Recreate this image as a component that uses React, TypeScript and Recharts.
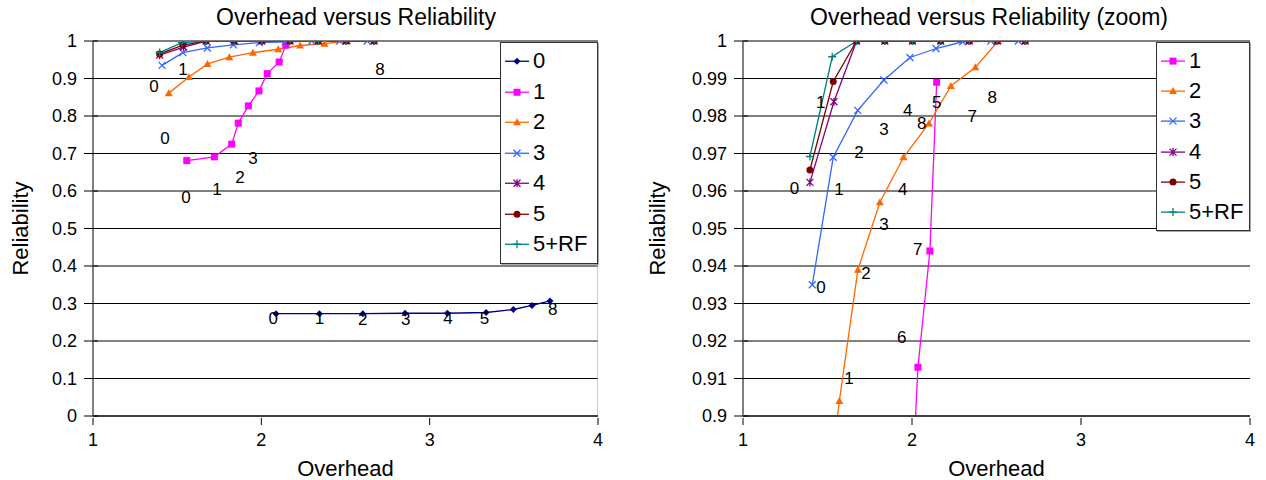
import React from 'react';
import { ComposedChart, Line, XAxis, YAxis, CartesianGrid, Legend, LabelList, Label } from 'recharts';

// overhead (x) / reliability (y) for each configuration
const overhead0 = [2.087, 2.345, 2.603, 2.854, 3.105, 3.335, 3.497, 3.608, 3.715];
const reliability0 = [0.273, 0.273, 0.273, 0.274, 0.274, 0.276, 0.284, 0.295, 0.307];

const overhead1 = [1.557, 1.721, 1.824, 1.863, 1.923, 1.986, 2.035, 2.106, 2.146];
const reliability1 = [0.681, 0.691, 0.725, 0.781, 0.827, 0.867, 0.913, 0.944, 0.989];

const overhead2 = [1.45, 1.57, 1.68, 1.81, 1.95, 2.1, 2.23, 2.375, 2.51];
const reliability2 = [0.861, 0.904, 0.939, 0.957, 0.969, 0.978, 0.988, 0.993, 1.0];

const overhead3 = [1.41, 1.534, 1.679, 1.834, 1.988, 2.142, 2.3, 2.466, 2.629];
const reliability3 = [0.935, 0.969, 0.9815, 0.9896, 0.9956, 0.998, 0.9998, 1.0, 1.0];

const overhead4 = [1.396, 1.538, 1.672, 1.839, 2.003, 2.17, 2.339, 2.504, 2.67];
const reliability4 = [0.9623, 0.9838, 1, 1, 1, 1, 1, 1, 1];

const overhead5 = [1.396, 1.534, 1.672, 1.839, 2.003, 2.17, 2.339, 2.504, 2.67];
const reliability5 = [0.9656, 0.9892, 1, 1, 1, 1, 1, 1, 1];

const overhead5rf = [1.396, 1.528, 1.672, 1.839, 2.003, 2.17, 2.339, 2.504, 2.67];
const reliability5rf = [0.9692, 0.9958, 1, 1, 1, 1, 1, 1, 1];

// stray point labels as they sit in the original (data units)
const leftLabels: [number, number, string][] = [
  [1.362, 0.88, '0'], [1.535, 0.925, '1'], [2.705, 0.923, '8'],
  [1.428, 0.741, '0'], [1.951, 0.688, '3'], [1.873, 0.635, '2'],
  [1.737, 0.603, '1'], [1.553, 0.584, '0'],
  [2.071, 0.2605, '0'], [2.345, 0.2605, '1'], [2.603, 0.258, '2'], [2.858, 0.258, '3'],
  [3.109, 0.2605, '4'], [3.325, 0.2605, '5'], [3.731, 0.2827, '8'],
];
const rightLabels: [number, number, string][] = [
  [1.46, 0.9835, '1'], [2.146, 0.9835, '5'], [1.975, 0.9814, '4'], [2.057, 0.9779, '8'],
  [1.834, 0.9765, '3'], [2.357, 0.9798, '7'], [2.475, 0.985, '8'], [1.686, 0.9702, '2'],
  [1.304, 0.9607, '0'], [1.568, 0.9605, '1'], [1.945, 0.9605, '4'],
  [1.834, 0.9512, '3'], [2.034, 0.9445, '7'], [1.728, 0.9379, '2'], [1.462, 0.9343, '0'],
  [1.939, 0.921, '6'], [1.627, 0.9099, '1'],
];

const xTicks = [1, 2, 3, 4];
const leftYTicks = [0, 0.1, 0.2, 0.3, 0.4, 0.5, 0.6, 0.7, 0.8, 0.9, 1];
const rightYTicks = [0.9, 0.91, 0.92, 0.93, 0.94, 0.95, 0.96, 0.97, 0.98, 0.99, 1];

const FONT = '"Liberation Sans", Arial, sans-serif';

const zip = (xs: number[], ys: number[]) => xs.map((x, i) => ({ x, y: ys[i] }));

type Marker = 'diamond' | 'square' | 'triangle' | 'x' | 'star' | 'circle' | 'plus';

const series = [
  { name: '0', color: '#000080', marker: 'diamond' as Marker, data: zip(overhead0, reliability0) },
  { name: '1', color: '#FF00FF', marker: 'square' as Marker, data: zip(overhead1, reliability1) },
  { name: '2', color: '#FF6600', marker: 'triangle' as Marker, data: zip(overhead2, reliability2) },
  { name: '3', color: '#3366FF', marker: 'x' as Marker, data: zip(overhead3, reliability3) },
  { name: '4', color: '#800080', marker: 'star' as Marker, data: zip(overhead4, reliability4) },
  { name: '5', color: '#800000', marker: 'circle' as Marker, data: zip(overhead5, reliability5) },
  { name: '5+RF', color: '#008080', marker: 'plus' as Marker, data: zip(overhead5rf, reliability5rf) },
];

function drawMarker(m: Marker, cx: number, cy: number, color: string, key?: string) {
  switch (m) {
    case 'diamond':
      return <path key={key} d={`M${cx},${cy - 3.5}L${cx + 3.5},${cy}L${cx},${cy + 3.5}L${cx - 3.5},${cy}Z`} fill={color} />;
    case 'square':
      return <rect key={key} x={cx - 3.5} y={cy - 3.5} width={7} height={7} fill={color} />;
    case 'triangle':
      return <path key={key} d={`M${cx},${cy - 4}L${cx + 4},${cy + 3}L${cx - 4},${cy + 3}Z`} fill={color} />;
    case 'x':
      return (
        <path key={key} d={`M${cx - 3.5},${cy - 3.5}L${cx + 3.5},${cy + 3.5}M${cx - 3.5},${cy + 3.5}L${cx + 3.5},${cy - 3.5}`}
          stroke={color} strokeWidth={1.3} fill="none" />
      );
    case 'star':
      return (
        <path key={key}
          d={`M${cx - 3.5},${cy - 3.5}L${cx + 3.5},${cy + 3.5}M${cx - 3.5},${cy + 3.5}L${cx + 3.5},${cy - 3.5}M${cx},${cy - 4}L${cx},${cy + 4}`}
          stroke={color} strokeWidth={1.3} fill="none" />
      );
    case 'circle':
      return <circle key={key} cx={cx} cy={cy} r={3.5} fill={color} />;
    case 'plus':
      return (
        <path key={key} d={`M${cx - 4},${cy}L${cx + 4},${cy}M${cx},${cy - 4}L${cx},${cy + 4}`}
          stroke={color} strokeWidth={1.3} fill="none" />
      );
  }
  return null;
}

const fmt = (v: number) => String(+v.toFixed(2));

const YTick = (props: any) => {
  const { x, y, payload } = props;
  return (
    <g>
      <line x1={x - 7} x2={x + 7} y1={y} y2={y} stroke="#000" strokeWidth={1} />
      <text x={x - 14} y={y} textAnchor="end" dominantBaseline="central" fontSize={18} fontFamily={FONT} fill="#000">
        {fmt(payload.value)}
      </text>
    </g>
  );
};

const XTick = (props: any) => {
  const { x, y, payload } = props;
  return (
    <g>
      <line x1={x} x2={x} y1={y} y2={y + 7} stroke="#000" strokeWidth={1} />
      <text x={x} y={y + 28} textAnchor="middle" fontSize={18} fontFamily={FONT} fill="#000">
        {payload.value}
      </text>
    </g>
  );
};

const pointLabel = (p: any) => {
  const x = p.x ?? p.viewBox?.x;
  const y = p.y ?? p.viewBox?.y;
  return (
    <text x={x} y={y} textAnchor="middle" dominantBaseline="central" fontSize={17} fontFamily={FONT} fill="#000">
      {p.value}
    </text>
  );
};

function LegendBox({ items, rowH }: { items: typeof series; rowH: number }) {
  return (
    <div style={{ border: '1px solid #333', boxShadow: '1px 1px 0 #aaa', background: '#fff', padding: '3px 0', fontFamily: FONT }}>
      {items.map((s) => (
        <div key={s.name} style={{ height: rowH, display: 'flex', alignItems: 'center', fontSize: 22 }}>
          <svg width={32} height={rowH} style={{ flex: 'none' }}>
            <line x1={4} x2={28} y1={rowH / 2} y2={rowH / 2} stroke={s.color} strokeWidth={1.3} />
            {drawMarker(s.marker, 16, rowH / 2, s.color)}
          </svg>
          <span style={{ lineHeight: 1 }}>{s.name}</span>
        </div>
      ))}
    </div>
  );
}

function Panel(props: {
  title: string;
  items: typeof series;
  yTicks: number[];
  yDomain: [number, number];
  labels: [number, number, string][];
  yAxisWidth: number;
  marginRight: number;
  yTitleX: number;
  legendLeft: number;
  legendWidth: number;
  legendRow: number;
  rightBorder?: boolean;
}) {
  const W = 633;
  const H = 480;
  const top = 41;
  const titleCenter = 356;
  const labelData = props.labels.map(([x, y, t]) => ({ x, y, t }));
  return (
    <div style={{ position: 'relative', width: W, height: H }}>
      <div style={{ position: 'absolute', top: 3, left: titleCenter - 250, width: 500, textAlign: 'center', fontFamily: FONT, fontSize: 23, lineHeight: '28px', color: '#000', zIndex: 1 }}>
        {props.title}
      </div>
      <ComposedChart width={W} height={H} margin={{ top, right: props.marginRight, bottom: 0, left: 0 }}>
        <CartesianGrid vertical={false} stroke="#000" strokeWidth={1} />
        <XAxis type="number" dataKey="x" domain={[1, 4]} ticks={xTicks} height={64}
          axisLine={{ stroke: '#000' }} tickLine={false} tickSize={0} tick={<XTick />} allowDataOverflow>
          <Label content={(p: any) => (
            <text x={p.viewBox.x + p.viewBox.width / 2} y={p.viewBox.y + 60} textAnchor="middle" fontSize={22} fontFamily={FONT} fill="#000">
              Overhead
            </text>
          )} />
        </XAxis>
        <YAxis type="number" dataKey="y" domain={props.yDomain} ticks={props.yTicks} width={props.yAxisWidth}
          axisLine={{ stroke: '#808080', strokeWidth: 2 }} tickLine={false} tickSize={0} tick={<YTick />} allowDataOverflow>
          <Label content={(p: any) => {
            const cy = p.viewBox.y + p.viewBox.height / 2;
            return (
              <text x={props.yTitleX} y={cy} transform={`rotate(-90, ${props.yTitleX}, ${cy})`} textAnchor="middle"
                dominantBaseline="central" fontSize={22} fontFamily={FONT} fill="#000">
                Reliability
              </text>
            );
          }} />
        </YAxis>
        {props.rightBorder && (
          <Line data={[{ x: 4, y: props.yDomain[0] }, { x: 4, y: props.yDomain[1] }]} dataKey="y" stroke="#999"
            dot={false} activeDot={false} legendType="none" isAnimationActive={false} />
        )}
        {props.items.map((s) => (
          <Line key={s.name} data={s.data} dataKey="y" name={s.name} stroke={s.color} strokeWidth={1.3}
            type="linear" isAnimationActive={false} activeDot={false}
            dot={(p: any) => drawMarker(s.marker, p.cx, p.cy, s.color, `${s.name}-${p.index}`)} />
        ))}
        <Line data={labelData} dataKey="y" stroke="none" dot={false} activeDot={false} legendType="none" isAnimationActive={false}>
          <LabelList dataKey="t" content={pointLabel} />
        </Line>
        <Legend layout="vertical" align="center" verticalAlign="middle"
          wrapperStyle={{ left: props.legendLeft, top: 42, width: props.legendWidth, bottom: 'auto', right: 'auto' }}
          content={() => <LegendBox items={props.items} rowH={props.legendRow} />} />
      </ComposedChart>
    </div>
  );
}

export default function App() {
  return (
    <div style={{ position: 'absolute', left: 0, top: 0, width: 1266, height: 480, background: '#fff', display: 'flex' }}>
      <Panel title="Overhead versus Reliability" items={series} yTicks={leftYTicks} yDomain={[0, 1]}
        labels={leftLabels} yAxisWidth={93} marginRight={35} yTitleX={20}
        legendLeft={500} legendWidth={98} legendRow={30.5} rightBorder />
      <Panel title="Overhead versus Reliability (zoom)" items={series.slice(1)} yTicks={rightYTicks} yDomain={[0.9, 1]}
        labels={rightLabels} yAxisWidth={110} marginRight={16} yTitleX={24}
        legendLeft={523} legendWidth={94} legendRow={30.2} />
    </div>
  );
}
